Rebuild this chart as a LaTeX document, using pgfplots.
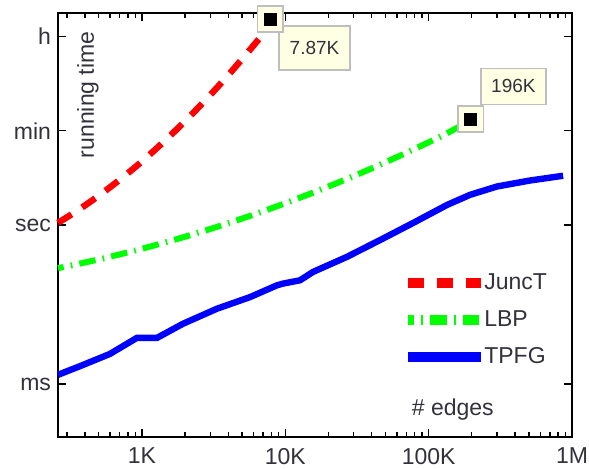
\documentclass[border=0pt]{standalone}
\usepackage{pgfplots}
\pgfplotsset{compat=1.18}
\usepackage{fontspec}
\setmainfont{Liberation Sans}
\newcommand\fs{\fontsize{11.5}{13.5}\selectfont}
\newcommand\fss{\fontsize{9.5}{11}\selectfont}
\definecolor{cream}{RGB}{255,255,228}
\definecolor{boxgray}{RGB}{190,190,190}
\definecolor{txtgray}{RGB}{50,50,60}

\begin{document}
\begin{tikzpicture}
\path[use as bounding box] (-29pt,-15.5pt) rectangle (265.5pt,218.5pt);
\begin{axis}[
  width=257pt, height=212pt, scale only axis,
  xmode=log, ymode=log,
  xmin=260, xmax=1e6, ymin=1e-4, ymax=1e4,
  xtick={1e3,1e4,1e5,1e6}, xticklabels={1K,10K,100K,1M},
  minor xtick={300,400,500,600,700,800,900,2000,3000,4000,5000,6000,7000,8000,9000,20000,30000,40000,50000,60000,70000,80000,90000,200000,300000,400000,500000,600000,700000,800000,900000},
  ytick={0.001,1,60,3600}, yticklabels={ms,sec,min,h},
  yminorticks=false,
  tick align=inside,
  major tick length=4pt, minor tick length=2.5pt,
  tick style={black, line width=0.7pt},
  axis line style={black, line width=0.9pt},
  ticklabel style={font=\fs, text=txtgray},
  xticklabel style={yshift=-2pt},
  clip=false,
  legend style={at={(0.671,0.395)}, anchor=north west, draw=none, fill=none,
    font=\fs, text=txtgray, row sep=5pt, inner sep=0pt, cells={anchor=west}},
  legend image code/.code={\draw[#1, line width=5pt] (0pt,0pt) -- (36.5pt,0pt);},
]
\addplot[red, line width=3.2pt, dash pattern=on 8pt off 6.3pt, smooth] coordinates {
(260,1.10) (355,1.87) (501,3.58) (708,7.31) (1000,15.8) (1413,36.7) (1995,90.4)
(2818,237) (3981,662) (5623,1968) (7870,5890)};
\addlegendentry{\hspace*{-3pt}JuncT}
\addplot[green, line width=3pt, dash pattern=on 8.3pt off 3.6pt on 0.8pt off 3.6pt, dash phase=5.4pt, smooth] coordinates {
(260,0.153) (501,0.2246) (1000,0.356) (1995,0.600) (3981,1.075) (7943,2.05)
(15850,4.14) (31620,8.89) (63100,20.3) (125900,49.2) (196000,95)};
\addlegendentry{\hspace*{-3pt}LBP}
\addplot[blue, line width=3.2pt] coordinates {
(260,0.00149) (387,0.00228) (598,0.00369) (923,0.00742) (1274,0.00742)
(1932,0.01367) (3334,0.0263) (5675,0.0436) (8750,0.0728) (9640,0.0784)
(12680,0.0906) (15600,0.130) (26970,0.251) (45800,0.519) (77800,1.09)
(134300,2.39) (194500,3.71) (300000,5.33) (510000,6.92) (867000,8.50)};
\addlegendentry{\hspace*{-3pt}TPFG}
% callout labels
\node[fill=cream, draw=boxgray, line width=0.8pt, minimum width=35.5pt, minimum height=22pt,
  inner sep=0pt, font=\fss, text=txtgray, anchor=center]
  at (axis cs:16000,2178) {7.87K};
\node[fill=cream, draw=boxgray, line width=0.8pt, minimum width=32.5pt, minimum height=18pt,
  inner sep=0pt, font=\fss, text=txtgray, anchor=center]
  at (axis cs:390000,414) {196K};
% markers
\addplot[forget plot, only marks, mark=square*, mark size=6.4pt,
  mark options={fill=cream, draw=boxgray, line width=0.8pt}] coordinates {(7870,7727) (196000,100)};
\addplot[forget plot, only marks, mark=square*, mark size=3pt, black] coordinates {(7870,7727) (196000,100)};
% texts
\node[rotate=90, font=\fs, text=txtgray] at (rel axis cs:0.058,0.807) {running time};
\node[font=\fs, text=txtgray] at (rel axis cs:0.768,0.064) {\# edges};
\end{axis}
\end{tikzpicture}
\end{document}
